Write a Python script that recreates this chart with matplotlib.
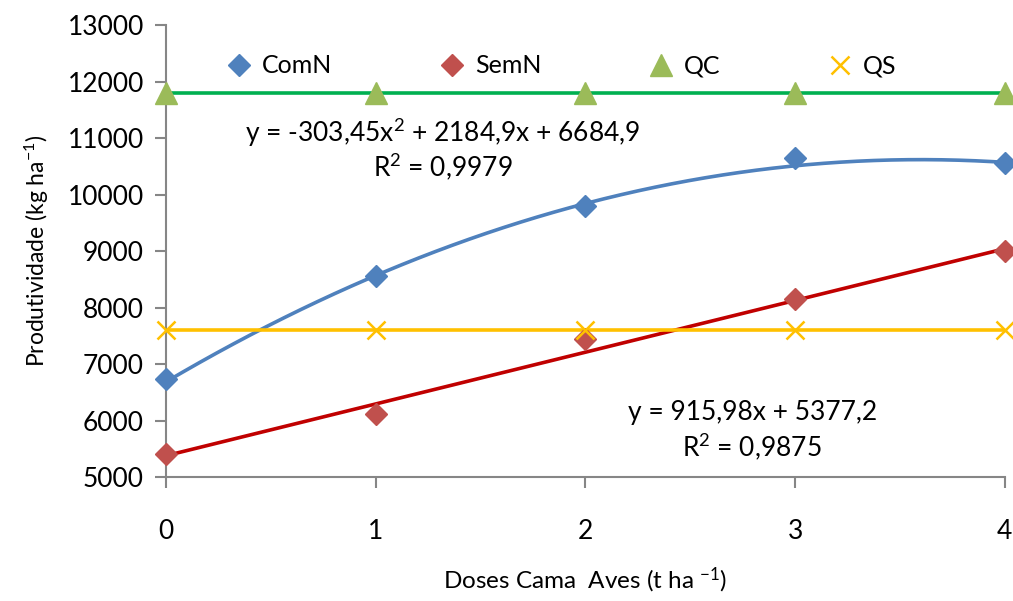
import numpy as np
import matplotlib
matplotlib.use("Agg")
import matplotlib.pyplot as plt

plt.rcParams['font.family'] = ['Lato', 'DejaVu Sans']
plt.rcParams['mathtext.fontset'] = 'custom'
plt.rcParams['mathtext.rm'] = 'Lato'
plt.rcParams['mathtext.it'] = 'Lato'
plt.rcParams['mathtext.default'] = 'regular'

doses = [0, 1, 2, 3, 4]
comn = [6740, 8550, 9800, 10650, 10550]
semn = [5400, 6120, 7450, 8150, 9000]
qc = [11800, 11800, 11800, 11800, 11800]
qs = [7600, 7600, 7600, 7600, 7600]
comn_coef = [-303.45, 2184.9, 6684.9]
semn_coef = [915.98, 5377.2]

fig = plt.figure(figsize=(10.13, 6.01), dpi=100)
ax = fig.add_axes([0.1639, 0.2063, 0.828, 0.752])

xs = np.linspace(0, 4, 200)
ax.plot(xs, np.polyval(comn_coef, xs), color='#4F81BD', lw=2.6, zorder=2)
ax.plot(xs, np.polyval(semn_coef, xs), color='#C00000', lw=2.6, zorder=2)
ax.plot(doses, qc, color='#00B050', lw=2.6, zorder=2)
ax.plot(doses, qs, color='#FFC000', lw=2.6, zorder=2)

ax.plot(doses, comn, 'D', color='#4F81BD', ms=11, ls='none', label='ComN', clip_on=False, zorder=3)
ax.plot(doses, semn, 'D', color='#C0504D', ms=11, ls='none', label='SemN', clip_on=False, zorder=3)
ax.plot(doses, qc, '^', color='#9BBB59', ms=16, ls='none', label='QC', clip_on=False, zorder=3)
ax.plot(doses, qs, 'x', color='#FFC000', ms=13, mew=1.8, ls='none', label='QS', clip_on=False, zorder=3)

ax.set_xlim(0, 4)
ax.set_ylim(5000, 13000)
ax.set_xticks(doses)
ax.set_yticks(np.arange(5000, 13001, 1000))
for s in ['top', 'right']:
    ax.spines[s].set_visible(False)
for s in ['left', 'bottom']:
    ax.spines[s].set_color('#868686')
    ax.spines[s].set_linewidth(1.5)
ax.tick_params(axis='both', colors='#868686', labelcolor='black', labelsize=19, width=1.5, length=8, direction='out')
ax.tick_params(axis='x', pad=22)
ax.tick_params(axis='y', pad=8)

ax.set_xlabel('Doses Cama  Aves (t ha $^{-1}$)', fontsize=17.5, labelpad=16)
ax.set_ylabel('Produtividade (kg ha$^{-1}$)', fontsize=16.5, labelpad=12)

leg = ax.legend(loc='upper center', bbox_to_anchor=(0.47, 0.985), ncol=4, frameon=False,
                fontsize=18, columnspacing=4.2, handletextpad=0.3, handlelength=1.2, numpoints=1)

ax.text(0.33, 0.761, 'y = -303,45x$^2$ + 2184,9x + 6684,9', transform=ax.transAxes, ha='center', va='center', fontsize=19)
ax.text(0.33, 0.684, 'R$^2$ = 0,9979', transform=ax.transAxes, ha='center', va='center', fontsize=19)
ax.text(0.699, 0.142, 'y = 915,98x + 5377,2', transform=ax.transAxes, ha='center', va='center', fontsize=19)
ax.text(0.699, 0.066, 'R$^2$ = 0,9875', transform=ax.transAxes, ha='center', va='center', fontsize=19)

fig.savefig('out.png', dpi=100)
